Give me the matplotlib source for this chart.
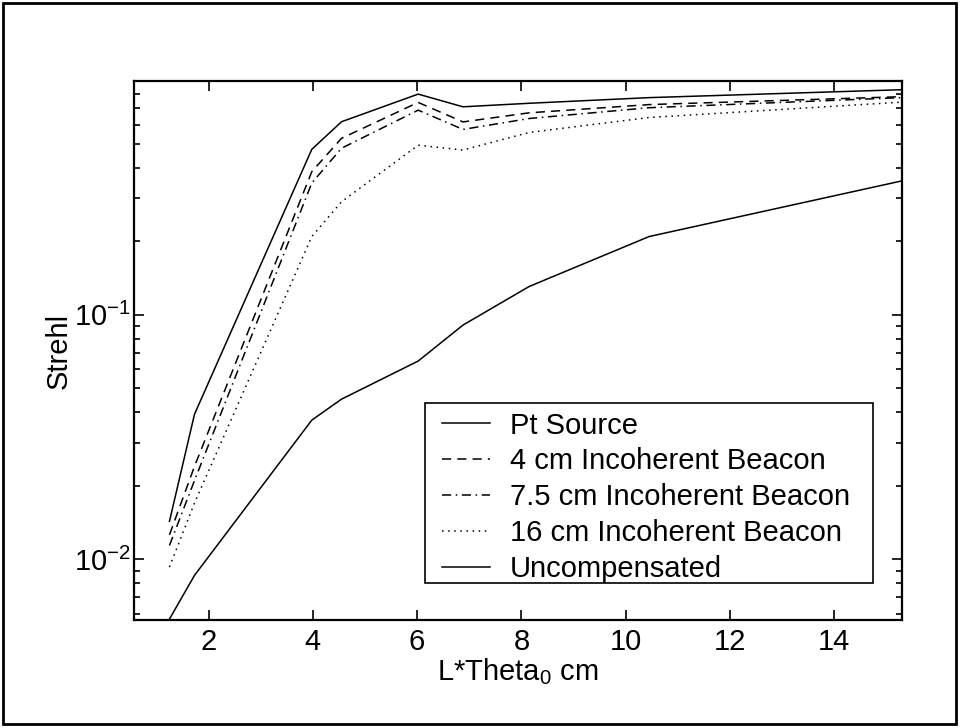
import numpy as np
import matplotlib
matplotlib.use('Agg')
import matplotlib.pyplot as plt
from matplotlib.patches import Rectangle
from matplotlib.ticker import LogLocator, NullFormatter

plt.rcParams['font.family'] = ['Liberation Sans', 'DejaVu Sans']
plt.rcParams['mathtext.fontset'] = 'custom'
plt.rcParams['mathtext.rm'] = 'Liberation Sans'
plt.rcParams['mathtext.it'] = 'Liberation Sans'
plt.rcParams['mathtext.default'] = 'regular'
plt.rcParams['axes.unicode_minus'] = False

# values
x = [1.25, 1.73, 3.98, 4.55, 6.02, 6.88, 8.15, 10.45, 15.3]
pt_source = [0.0143, 0.0392, 0.475, 0.616, 0.799, 0.709, 0.733, 0.773, 0.833]
beacon_4 = [0.0126, 0.0240, 0.385, 0.527, 0.739, 0.615, 0.670, 0.724, 0.780]
beacon_75 = [0.0114, 0.0210, 0.346, 0.480, 0.687, 0.573, 0.635, 0.703, 0.773]
beacon_16 = [0.0093, 0.0170, 0.209, 0.290, 0.494, 0.472, 0.557, 0.641, 0.741]
uncomp = [0.0057, 0.0086, 0.0371, 0.0452, 0.0647, 0.0908, 0.1306, 0.209, 0.353]

labels = ['Pt Source', '4 cm Incoherent Beacon', '7.5 cm Incoherent Beacon',
          '16 cm Incoherent Beacon', 'Uncompensated']

fs = 21

fig = plt.figure(figsize=(9.6, 7.28), dpi=100)
ax = fig.add_axes([134/960, 108/728, 768/960, 539/728])

lw = 1.1
ax.plot(x, pt_source, color='black', lw=lw, ls='-', label=labels[0])
ax.plot(x, beacon_4, color='black', lw=lw, ls=(0, (6, 4)), label=labels[1])
ax.plot(x, beacon_75, color='black', lw=lw, ls=(0, (6, 3, 1, 3)), label=labels[2])
ax.plot(x, beacon_16, color='black', lw=lw, ls=(0, (1, 3)), label=labels[3])
ax.plot(x, uncomp, color='black', lw=lw, ls='-', label=labels[4])

ax.set_yscale('log')
ax.set_xlim(0.57, 15.3)
ax.set_ylim(0.00565, 0.904)
ax.set_xticks([2, 4, 6, 8, 10, 12, 14])
ax.yaxis.set_major_locator(LogLocator(base=10, numticks=10))
ax.yaxis.set_minor_locator(LogLocator(base=10, subs=np.arange(2, 10), numticks=10))
ax.yaxis.set_minor_formatter(NullFormatter())

for s in ax.spines.values():
    s.set_linewidth(1.6)
ax.tick_params(which='both', direction='in', top=True, right=True, labelsize=fs, width=1.2)
ax.tick_params(which='major', length=7)
ax.tick_params(which='minor', length=4)
ax.tick_params(axis='x', pad=6)
ax.tick_params(axis='y', pad=2)

ax.set_xlabel(r'L*Theta$_0$ cm', fontsize=fs, labelpad=0)
ax.set_ylabel('Strehl', fontsize=fs)
ax.yaxis.set_label_coords(-0.08, 0.5)

# legend entries without frame, frame drawn as a box like the MATLAB one
leg = ax.legend(loc='upper left', bbox_to_anchor=(0.4006, 0.3868), borderaxespad=0,
                fontsize=fs, frameon=False, handlelength=1.65, handletextpad=0.68,
                labelspacing=0.27, borderpad=0)
ax.add_patch(Rectangle((0.379, 0.0686), 0.583, 0.334, transform=ax.transAxes,
                       fill=True, facecolor='none', edgecolor='black', lw=1.2, zorder=4))

fig.patches.append(Rectangle((3/960, 4/728), 953/960, 721/728, transform=fig.transFigure,
                             fill=False, edgecolor='black', lw=2))

fig.savefig('out.png', dpi=100)
